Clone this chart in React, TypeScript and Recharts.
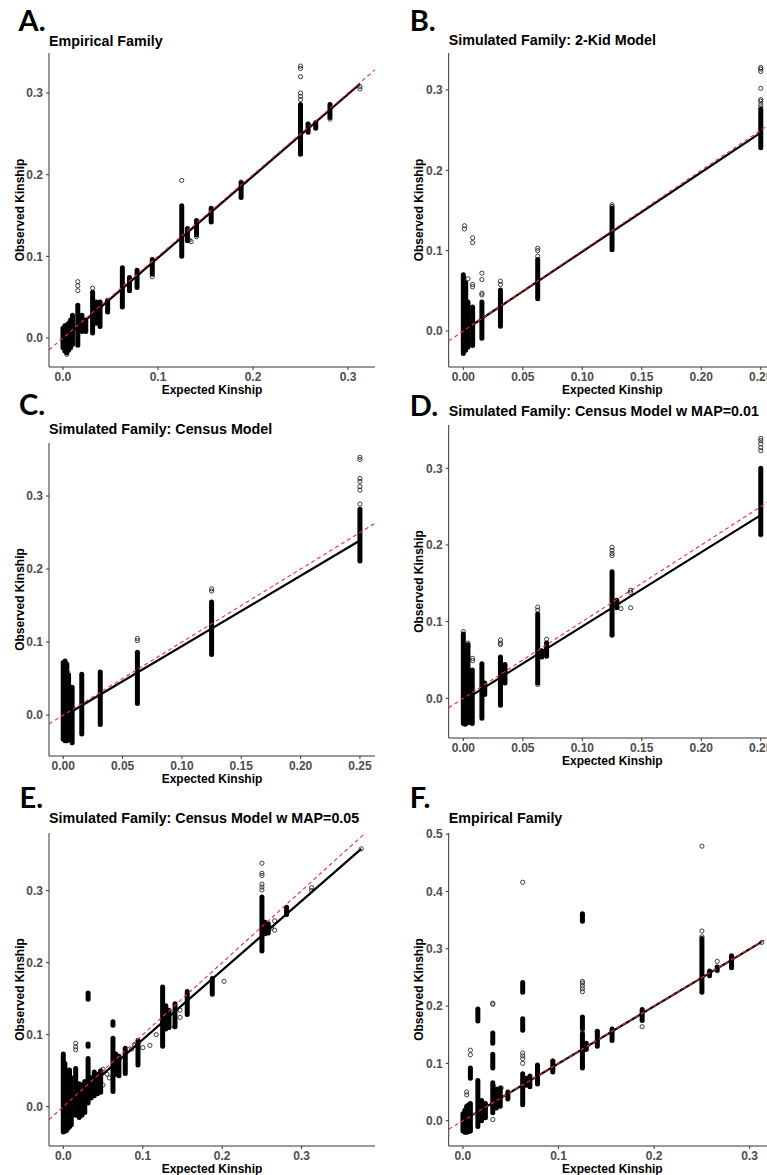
import React from 'react';
import { ScatterChart, Scatter, XAxis, YAxis, ReferenceLine } from 'recharts';

type Col = [number, number, number]; // x, lowest y, highest y of a dense stack of points
type Pt = [number, number];

// tick labels
const ticksTenth = [0, 0.1, 0.2, 0.3];
const ticksTwentieth = [0, 0.05, 0.1, 0.15, 0.2, 0.25];
const ticksHalf = [0, 0.1, 0.2, 0.3, 0.4, 0.5];

// A. Empirical Family
const empiricalCols: Col[] = [
  [0.0, -0.012, 0.012], [0.002, -0.016, 0.015], [0.004, -0.018, 0.016], [0.006, -0.015, 0.018],
  [0.008, -0.012, 0.022], [0.01, -0.008, 0.028], [0.0156, -0.009, 0.04], [0.02, 0.008, 0.028],
  [0.024, 0.008, 0.022], [0.0312, 0.006, 0.056], [0.035, 0.018, 0.044], [0.039, 0.014, 0.044],
  [0.047, 0.032, 0.046], [0.0625, 0.038, 0.086], [0.07, 0.058, 0.074], [0.078, 0.062, 0.083],
  [0.094, 0.078, 0.096], [0.125, 0.1, 0.162], [0.131, 0.119, 0.134], [0.1406, 0.126, 0.144],
  [0.156, 0.142, 0.159], [0.1875, 0.172, 0.19], [0.25, 0.225, 0.286], [0.258, 0.252, 0.262],
  [0.266, 0.257, 0.264], [0.281, 0.27, 0.286],
];
const empiricalPts: Pt[] = [
  [0.0156, 0.058], [0.0156, 0.064], [0.0156, 0.069], [0.125, 0.193], [0.25, 0.33], [0.25, 0.333],
  [0.25, 0.32], [0.25, 0.3], [0.25, 0.296], [0.25, 0.292], [0.094, 0.075], [0.3125, 0.305],
  [0.3125, 0.308], [0.133, 0.12], [0.1875, 0.191], [0.0312, 0.061], [0.1406, 0.124],
  [0.258, 0.262], [0.004, -0.02], [0.281, 0.268], [0.135, 0.118],
];
const empiricalFit: Pt[] = [[0.0, -0.002], [0.3125, 0.311]];

// B. Simulated Family: 2-Kid Model
const twoKidCols: Col[] = [
  [0.0, -0.028, 0.07], [0.002, -0.024, 0.06], [0.0039, -0.02, 0.036], [0.0078, -0.018, 0.03],
  [0.0156, -0.009, 0.036], [0.0312, 0.006, 0.051], [0.0625, 0.04, 0.089], [0.125, 0.101, 0.153],
  [0.25, 0.228, 0.276],
];
const twoKidPts: Pt[] = [
  [0.001, 0.131], [0.001, 0.127], [0.0078, 0.116], [0.0078, 0.11], [0.0078, 0.058], [0.0078, 0.055],
  [0.0039, 0.065], [0.0156, 0.072], [0.0156, 0.064], [0.0156, 0.047], [0.0156, 0.045],
  [0.0312, 0.058], [0.0312, 0.062], [0.0625, 0.1], [0.0625, 0.103], [0.0625, 0.093],
  [0.125, 0.155], [0.125, 0.157], [0.25, 0.282], [0.25, 0.286], [0.25, 0.288], [0.25, 0.302],
  [0.25, 0.323], [0.25, 0.326], [0.25, 0.328], [0.25, 0.279],
];
const twoKidFit: Pt[] = [[0.0, 0.0], [0.25, 0.247]];

// C. Simulated Family: Census Model
const censusCols: Col[] = [
  [0.0, -0.033, 0.072], [0.0015, -0.035, 0.074], [0.003, -0.035, 0.07], [0.0045, -0.034, 0.055],
  [0.0075, -0.038, 0.038], [0.0156, -0.026, 0.056], [0.0312, -0.013, 0.059], [0.0625, 0.016, 0.086],
  [0.125, 0.083, 0.155], [0.25, 0.211, 0.282],
];
const censusPts: Pt[] = [
  [0.0039, 0.058], [0.0039, 0.052], [0.0625, 0.102], [0.0625, 0.105], [0.125, 0.17], [0.125, 0.173],
  [0.25, 0.289], [0.25, 0.308], [0.25, 0.313], [0.25, 0.32], [0.25, 0.324], [0.25, 0.35], [0.25, 0.353],
];
const censusFit: Pt[] = [[0.0, -0.002], [0.25, 0.239]];

// D. Simulated Family: Census Model w MAP=0.01
const map01Cols: Col[] = [
  [0.0, -0.033, 0.084], [0.0015, -0.034, 0.06], [0.0039, -0.032, 0.07], [0.0075, -0.033, 0.037],
  [0.0156, -0.026, 0.045], [0.018, 0.005, 0.02], [0.0312, -0.009, 0.054], [0.035, 0.02, 0.044],
  [0.0625, 0.02, 0.11], [0.066, 0.054, 0.062], [0.07, 0.055, 0.072], [0.125, 0.083, 0.165],
  [0.129, 0.118, 0.128], [0.25, 0.214, 0.3],
];
const map01Pts: Pt[] = [
  [0.0, 0.087], [0.0039, 0.072], [0.0039, 0.068], [0.0078, 0.049], [0.0078, 0.052], [0.0312, 0.07],
  [0.0312, 0.072], [0.0312, 0.076], [0.0625, 0.115], [0.0625, 0.119], [0.0625, 0.018], [0.07, 0.077],
  [0.066, 0.057], [0.125, 0.186], [0.125, 0.189], [0.125, 0.193], [0.125, 0.197], [0.125, 0.082],
  [0.1325, 0.117], [0.1406, 0.141], [0.1406, 0.138], [0.1406, 0.118], [0.25, 0.323], [0.25, 0.327],
  [0.25, 0.332], [0.25, 0.336], [0.25, 0.339], [0.25, 0.213],
];
const map01Fit: Pt[] = [[0.0, -0.003], [0.25, 0.239]];

// E. Simulated Family: Census Model w MAP=0.05
const map05Cols: Col[] = [
  [0.0, -0.035, 0.073], [0.002, -0.034, 0.06], [0.004, -0.033, 0.048], [0.006, -0.03, 0.05],
  [0.0078, -0.028, 0.051], [0.01, -0.025, 0.04], [0.0156, -0.012, 0.053], [0.02, -0.015, 0.032],
  [0.0235, -0.012, 0.03], [0.027, -0.008, 0.035], [0.0312, 0.005, 0.067], [0.0312, 0.149, 0.158],
  [0.0312, 0.084, 0.087], [0.035, 0.012, 0.04], [0.039, 0.015, 0.048], [0.043, 0.018, 0.045],
  [0.047, 0.02, 0.05], [0.0625, 0.021, 0.095], [0.0625, 0.113, 0.118], [0.066, 0.045, 0.073],
  [0.07, 0.043, 0.07], [0.078, 0.046, 0.081], [0.094, 0.058, 0.092], [0.125, 0.084, 0.166],
  [0.129, 0.108, 0.14], [0.133, 0.11, 0.134], [0.1406, 0.111, 0.143], [0.156, 0.128, 0.16],
  [0.1875, 0.156, 0.178], [0.25, 0.216, 0.291], [0.254, 0.24, 0.256], [0.258, 0.241, 0.254],
  [0.281, 0.267, 0.277],
];
const map05Pts: Pt[] = [
  [0.0156, 0.079], [0.0156, 0.083], [0.0156, 0.088], [0.05, 0.052], [0.05, 0.03], [0.055, 0.045],
  [0.058, 0.04], [0.086, 0.08], [0.09, 0.085], [0.1, 0.082], [0.109, 0.085], [0.117, 0.1],
  [0.147, 0.124], [0.147, 0.134], [0.14, 0.111], [0.2022, 0.174], [0.25, 0.338], [0.25, 0.324],
  [0.25, 0.321], [0.25, 0.309], [0.25, 0.305], [0.25, 0.301], [0.262, 0.248], [0.266, 0.245],
  [0.266, 0.258], [0.3125, 0.3], [0.3125, 0.304], [0.375, 0.358],
];
const map05Fit: Pt[] = [[0.0, -0.003], [0.375, 0.358]];

// F. Empirical Family
const empirical2Cols: Col[] = [
  [0.0, -0.018, 0.012], [0.002, -0.02, 0.018], [0.0039, -0.02, 0.025], [0.006, -0.019, 0.028],
  [0.0078, -0.018, 0.03], [0.0078, 0.074, 0.092], [0.0156, -0.01, 0.07], [0.0156, 0.174, 0.195],
  [0.0195, 0.0, 0.035], [0.0235, 0.005, 0.03], [0.0312, 0.014, 0.066], [0.0312, 0.092, 0.116],
  [0.0312, 0.135, 0.153], [0.035, 0.022, 0.055], [0.039, 0.025, 0.057], [0.047, 0.038, 0.05],
  [0.0625, 0.028, 0.082], [0.0625, 0.158, 0.178], [0.0625, 0.224, 0.241], [0.066, 0.062, 0.074],
  [0.07, 0.059, 0.078], [0.078, 0.064, 0.097], [0.094, 0.085, 0.104], [0.125, 0.092, 0.152],
  [0.125, 0.161, 0.181], [0.125, 0.348, 0.361], [0.129, 0.124, 0.135], [0.1406, 0.13, 0.156],
  [0.156, 0.14, 0.16], [0.1875, 0.175, 0.194], [0.25, 0.224, 0.318], [0.258, 0.253, 0.261],
  [0.266, 0.262, 0.268], [0.281, 0.267, 0.288],
];
const empirical2Pts: Pt[] = [
  [0.0039, 0.045], [0.0039, 0.05], [0.0078, 0.115], [0.0078, 0.123], [0.0312, 0.002], [0.0312, 0.203],
  [0.0312, 0.205], [0.0625, 0.416], [0.0625, 0.1], [0.0625, 0.108], [0.0625, 0.113], [0.0625, 0.118],
  [0.125, 0.225], [0.125, 0.23], [0.125, 0.235], [0.125, 0.24], [0.125, 0.243], [0.25, 0.321],
  [0.25, 0.331], [0.25, 0.479], [0.266, 0.278], [0.1875, 0.164], [0.3125, 0.311], [0.032, 0.06],
  [0.125, 0.158], [0.094, 0.104], [0.1406, 0.156], [0.04, 0.057],
];
const empirical2Fit: Pt[] = [[0.0, 0.0], [0.3125, 0.312]];

const FONT = '"Liberation Sans", Arial, Helvetica, sans-serif';
const AXIS = '#333333';

type PanelDef = {
  letter: string;
  title: string;
  colX: number;
  plot: { l: number; t: number; r: number; b: number };
  letterPos: [number, number];
  titlePos: [number, number];
  xDomain: [number, number];
  yDomain: [number, number];
  xTicks: number[];
  yTicks: number[];
  xDigits: number;
  cols: Col[];
  pts: Pt[];
  fit: Pt[];
};

const panels: PanelDef[] = [
  {
    letter: 'A.', title: 'Empirical Family', colX: 0,
    plot: { l: 49, t: 53, r: 375, b: 367 }, letterPos: [18.5, 30.7], titlePos: [49, 45.7],
    xDomain: [-0.0147, 0.3284], yDomain: [-0.0355, 0.349], xTicks: ticksTenth, yTicks: ticksTenth, xDigits: 1,
    cols: empiricalCols, pts: empiricalPts, fit: empiricalFit,
  },
  {
    letter: 'B.', title: 'Simulated Family: 2-Kid Model', colX: 383,
    plot: { l: 448.7, t: 53, r: 776, b: 367 }, letterPos: [409.7, 30.7], titlePos: [448.7, 45],
    xDomain: [-0.0123, 0.2628], yDomain: [-0.0448, 0.346], xTicks: ticksTwentieth, yTicks: ticksTenth, xDigits: 2,
    cols: twoKidCols, pts: twoKidPts, fit: twoKidFit,
  },
  {
    letter: 'C.', title: 'Simulated Family: Census Model', colX: 0,
    plot: { l: 49, t: 443, r: 375, b: 756 }, letterPos: [19, 415], titlePos: [49, 434.3],
    xDomain: [-0.012, 0.2627], yDomain: [-0.056, 0.3726], xTicks: ticksTwentieth, yTicks: ticksTenth, xDigits: 2,
    cols: censusCols, pts: censusPts, fit: censusFit,
  },
  {
    letter: 'D.', title: 'Simulated Family: Census Model w MAP=0.01', colX: 383,
    plot: { l: 448.7, t: 425, r: 776, b: 738 }, letterPos: [409.7, 416], titlePos: [448.7, 416],
    xDomain: [-0.0123, 0.2628], yDomain: [-0.0518, 0.3565], xTicks: ticksTwentieth, yTicks: ticksTenth, xDigits: 2,
    cols: map01Cols, pts: map01Pts, fit: map01Fit,
  },
  {
    letter: 'E.', title: 'Simulated Family: Census Model w MAP=0.05', colX: 0,
    plot: { l: 49, t: 833, r: 375, b: 1146 }, letterPos: [19.5, 808], titlePos: [49, 823.3],
    xDomain: [-0.018, 0.3923], yDomain: [-0.0546, 0.38], xTicks: ticksTenth, yTicks: ticksTenth, xDigits: 1,
    cols: map05Cols, pts: map05Pts, fit: map05Fit,
  },
  {
    letter: 'F.', title: 'Empirical Family', colX: 383,
    plot: { l: 448.7, t: 833, r: 776, b: 1146 }, letterPos: [409.7, 808], titlePos: [448.7, 823.3],
    xDomain: [-0.0149, 0.3275], yDomain: [-0.0442, 0.502], xTicks: ticksTenth, yTicks: ticksHalf, xDigits: 1,
    cols: empirical2Cols, pts: empirical2Pts, fit: empirical2Fit,
  },
];

const tickStyle = { fill: '#4d4d4d', fontSize: 12, fontWeight: 700, fontFamily: FONT };

const Ring = (props: any) => {
  const { cx, cy } = props;
  return <circle cx={cx} cy={cy} r={2.1} fill="none" stroke="#111" strokeWidth={0.8} />;
};

function Panel({ p }: { p: PanelDef }) {
  const { plot, colX, xDomain, yDomain } = p;
  const width = plot.r - colX + 6;
  const height = plot.b - plot.t + 44;
  const points = p.pts.map(([x, y]) => ({ x, y }));
  return (
    <div style={{ position: 'absolute', left: colX, top: plot.t - 10 }}>
      <ScatterChart
        width={width}
        height={height}
        margin={{ top: 10, right: 6, bottom: 4, left: plot.l - colX - 40 }}
      >
        <XAxis
          type="number"
          dataKey="x"
          domain={xDomain}
          ticks={p.xTicks}
          interval={0}
          allowDataOverflow
          tickFormatter={(v: number) => v.toFixed(p.xDigits)}
          tick={tickStyle}
          tickSize={3}
          tickMargin={2}
          height={30}
          axisLine={{ stroke: AXIS, strokeWidth: 1 }}
          tickLine={{ stroke: AXIS }}
        />
        <YAxis
          type="number"
          dataKey="y"
          domain={yDomain}
          ticks={p.yTicks}
          interval={0}
          allowDataOverflow
          tickFormatter={(v: number) => v.toFixed(1)}
          tick={tickStyle}
          tickSize={3}
          tickMargin={3}
          width={40}
          axisLine={{ stroke: AXIS, strokeWidth: 1 }}
          tickLine={{ stroke: AXIS }}
        />
        {p.cols.map(([x, lo, hi], i) => (
          <ReferenceLine
            key={'c' + i}
            segment={[{ x, y: lo }, { x, y: hi }]}
            stroke="#000"
            strokeWidth={5}
            strokeLinecap="round"
            ifOverflow="visible"
          />
        ))}
        <Scatter data={points} shape={Ring} isAnimationActive={false} />
        <ReferenceLine
          segment={[{ x: p.fit[0][0], y: p.fit[0][1] }, { x: p.fit[1][0], y: p.fit[1][1] }]}
          stroke="#000"
          strokeWidth={2.2}
          ifOverflow="visible"
        />
        <ReferenceLine
          segment={[{ x: xDomain[0], y: xDomain[0] }, { x: xDomain[1], y: xDomain[1] }]}
          stroke="#f03030"
          strokeWidth={1.1}
          strokeDasharray="4 3"
          ifOverflow="hidden"
        />
      </ScatterChart>
    </div>
  );
}

export default function App() {
  return (
    <div
      style={{
        position: 'absolute', left: 0, top: 0, width: 767, height: 1175,
        overflow: 'hidden', background: '#fff',
      }}
    >
      {panels.map((p) => (
        <Panel key={p.letter} p={p} />
      ))}
      <svg
        width={767}
        height={1175}
        style={{ position: 'absolute', left: 0, top: 0, pointerEvents: 'none' }}
      >
        {panels.map((p) => {
          const cx = (p.plot.l + p.plot.r) / 2;
          const cy = (p.plot.t + p.plot.b) / 2;
          return (
            <g key={p.letter}>
              <text x={p.letterPos[0]} y={p.letterPos[1]} fontFamily="Lato, 'Open Sans', sans-serif" fontWeight={700} fontSize={29} fill="#000">
                {p.letter}
              </text>
              <text x={p.titlePos[0]} y={p.titlePos[1]} fontFamily={FONT} fontWeight={700} fontSize={14.3} fill="#000">
                {p.title}
              </text>
              <text x={cx} y={p.plot.b + 26.6} textAnchor="middle" fontFamily={FONT} fontWeight={700} fontSize={12} fill="#000">
                Expected Kinship
              </text>
              <text transform={`translate(${p.plot.l - 25.4}, ${cy}) rotate(-90)`} textAnchor="middle" fontFamily={FONT} fontWeight={700} fontSize={12} fill="#000">
                Observed Kinship
              </text>
            </g>
          );
        })}
      </svg>
    </div>
  );
}
